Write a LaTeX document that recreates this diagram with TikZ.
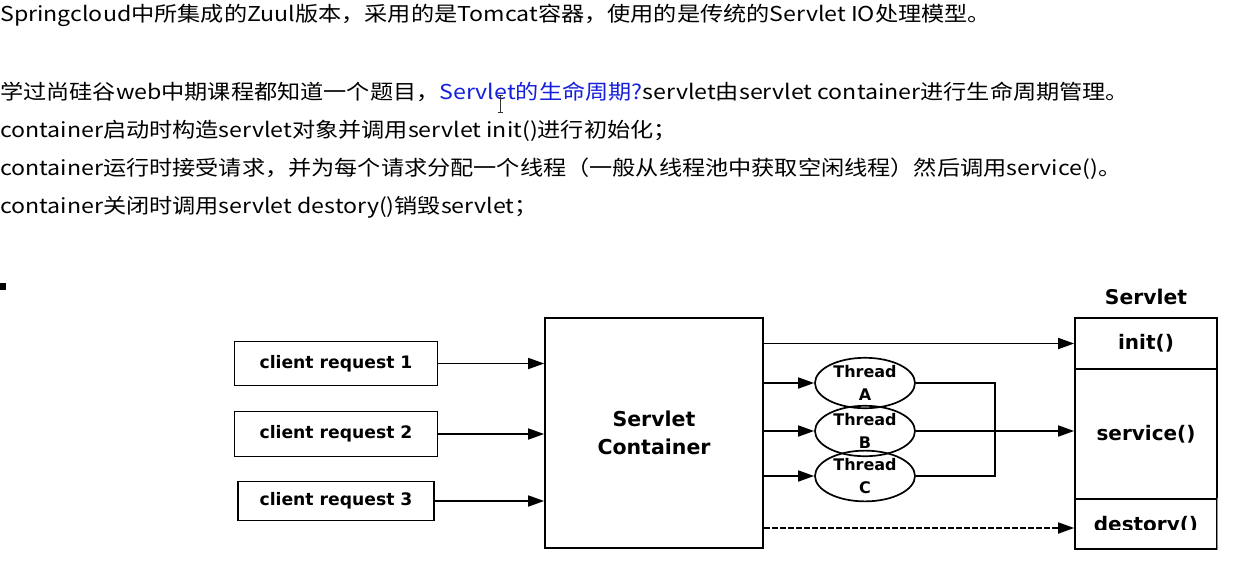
\documentclass[tikz,border=0pt]{standalone}
\usepackage{fontspec}
\setmainfont{Noto Sans CJK SC}[FakeStretch=1.13]
\newfontfamily\diagfont{DejaVu Sans}
\usetikzlibrary{arrows.meta,shapes.geometric}
\definecolor{linkblue}{RGB}{20,30,220}
\begin{document}
\begin{tikzpicture}[x=1pt,y=-1pt,
  txt/.style={anchor=base west,inner sep=0pt,font=\fontsize{20.5}{22}\selectfont},
  lw/.style={line width=1.7pt},
  box/.style={draw,lw,inner sep=0pt,font=\diagfont\bfseries\fontsize{17.2}{20}\selectfont},
  arr/.style={lw,-{Triangle[length=16pt,width=11pt]}},
  thr/.style={draw,lw,ellipse,inner sep=0pt,minimum width=100pt,minimum height=40pt,align=center,
     font=\diagfont\bfseries\fontsize{16}{23.5}\selectfont},
  part/.style={draw,lw,inner sep=0pt,minimum width=142pt,font=\diagfont\bfseries\fontsize{20}{24}\selectfont}]
\useasboundingbox (0,0) rectangle (1259,563);
% text
\node[txt] (l1) at (0,21) {Springcloud中所集成的Zuul版本，采用的是Tomcat容器，使用的是传统的Servlet IO处理模型。};
\node[txt] (l2) at (0,99) {学过尚硅谷web中期课程都知道一个题目，\textcolor{linkblue}{Servlet的生命周期?}servlet由servlet container进行生命周期管理。};
\node[txt] (l3) at (0,137) {container启动时构造servlet对象并调用servlet init()进行初始化；};
\node[txt] (l4) at (0,175) {container运行时接受请求，并为每个请求分配一个线程（一般从线程池中获取空闲线程）然后调用service()。};
\node[txt] (l5) at (0,213) {container关闭时调用servlet destory()销毁servlet；};
\fill (0,283) rectangle (6,290);
\draw[line width=0.8pt,black!80] (500,95) -- (500,112) (497.5,95) -- (502.5,95) (497.5,112) -- (502.5,112);
% clients
\node[box,minimum width=203pt,minimum height=44pt] (c1) at (336,363.5) {client request 1};
\node[box,minimum width=203pt,minimum height=45pt] (c2) at (336,434) {client request 2};
\node[box,minimum width=196pt,minimum height=39pt] (c3) at (336,501) {client request 3};
% container
\node[box,minimum width=218pt,minimum height=230pt,align=center,font=\diagfont\bfseries\fontsize{20.5}{28.5}\selectfont] (cont) at (654,433) {Servlet\\Container};
% servlet
\node[inner sep=0pt,font=\diagfont\bfseries\fontsize{20.3}{24}\selectfont] (svt) at (1146,297) {Servlet};
\node[part,minimum height=51pt] (sinit) at (1146,343.5) {init()};
\node[part,minimum height=130pt] (ssvc) at (1146,434) {service()};
\node[part,minimum height=50pt] (sdes) at (1146,524) {};
\begin{scope}
\clip (1077,500) rectangle (1215,529.5);
\node[inner sep=0pt,font=\diagfont\bfseries\fontsize{20}{24}\selectfont] (sdest) at (1146,526) {destory()};
\end{scope}
\draw[line width=1.7pt,white] (sdes.north east) ++(0,2) -- (sdes.south east);
\draw[line width=1.2pt,black!45] (sdes.north east) -- (sdes.south east);
% threads
\node[thr] (ta) at (865,383) {Thread\\A};
\node[thr] (tb) at (865,431) {Thread\\B};
\node[thr] (tc) at (865,476) {Thread\\C};
\coordinate (j) at (995,433);
\coordinate (dy) at (0,528);
% connectors
\draw[arr] (c1.east) -- (c1.east -| cont.west);
\draw[arr] (c2.east) -- (c2.east -| cont.west);
\draw[arr] (c3.east) -- (c3.east -| cont.west);
\draw[arr] (sinit.west -| cont.east) -- (sinit.west);
\draw[arr] (ta.west -| cont.east) -- (ta.west);
\draw[arr] (tb.west -| cont.east) -- (tb.west);
\draw[arr] (tc.west -| cont.east) -- (tc.west);
\draw[lw] (ta.east) -- (ta.east -| j) -- (tc.east -| j) -- (tc.east);
\draw[arr] (tb.east) -- (tb.east -| ssvc.west);
\draw[arr,dash pattern=on 6pt off 2pt] (cont.east |- dy) -- (sdes.west |- dy);
\end{tikzpicture}
\end{document}
